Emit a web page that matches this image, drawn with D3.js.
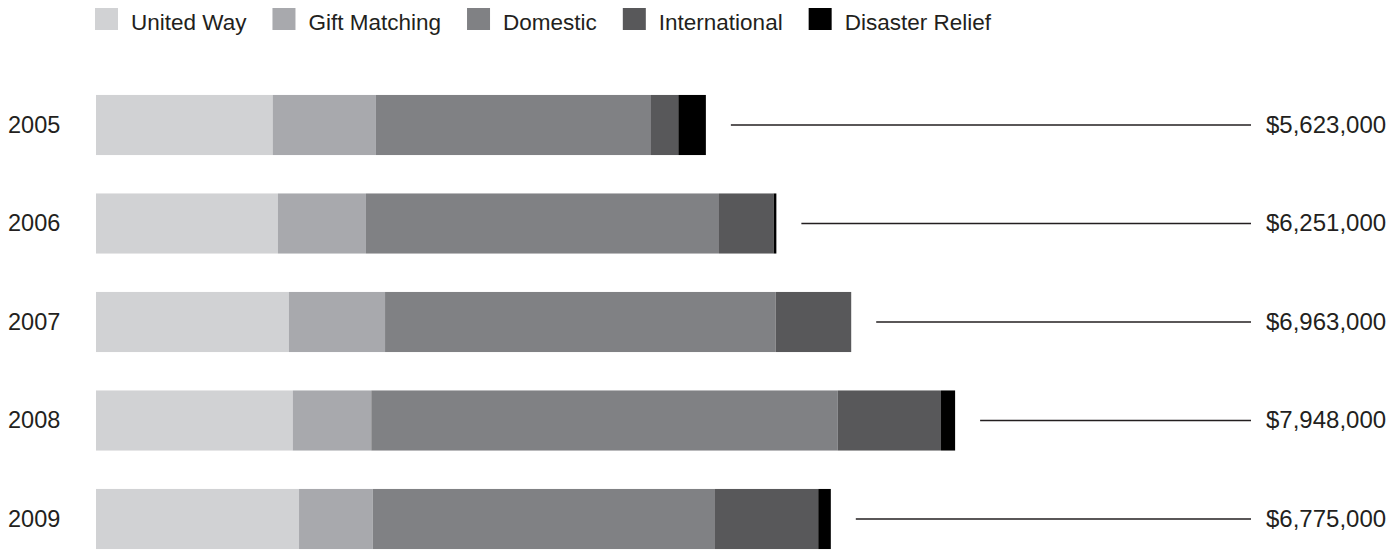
<!DOCTYPE html>
<html>
<head>
<meta charset="utf-8">
<script src="https://cdn.jsdelivr.net/npm/d3@7"></script>
<style>
  body { margin: 0; background: #fff; }
  text { font-family: "Liberation Sans", Arial, sans-serif; fill: #231f20; }
</style>
</head>
<body>
<div id="chart"></div>
<script>
// Giving by year, in thousands of dollars
const years = ["2005", "2006", "2007", "2008", "2009"];
const categories = ["United Way", "Gift Matching", "Domestic", "International", "Disaster Relief"];
const unitedWay     = [1629, 1677, 1778, 1814, 1872];
const giftMatching  = [952, 812, 887, 724, 680];
const domestic      = [2536, 3255, 3602, 4301, 3155];
const international = [252, 504, 696, 952, 952];
const disasterRelief = [254, 25, 0, 130, 116];
const totalLabels = ["$5,623,000", "$6,251,000", "$6,963,000", "$7,948,000", "$6,775,000"];

const colors = ["#d1d2d4", "#a8a9ad", "#808184", "#58585a", "#000000"];

const width = 1397, height = 550;

const rows = years.map((y, i) => ({
    year: y,
    "United Way": unitedWay[i],
    "Gift Matching": giftMatching[i],
    "Domestic": domestic[i],
    "International": international[i],
    "Disaster Relief": disasterRelief[i],
    label: totalLabels[i]
}));

const svg = d3.select("#chart").append("svg")
    .attr("width", width)
    .attr("height", height);

//Scales
const x = d3.scaleLinear().domain([0, 8000]).range([96, 96 + 8000 / 9.22]);
const y = d3.scaleBand().domain(years).range([75.75, 568.25])
    .paddingInner(0.39).paddingOuter(0.195);
const color = d3.scaleOrdinal().domain(categories).range(colors);

const series = d3.stack().keys(categories)(rows);

//Stacked bars
svg.append("g").selectAll("g")
    .data(series)
    .join("g")
    .attr("fill", d => color(d.key))
    .selectAll("rect")
    .data(d => d)
    .join("rect")
    .attr("x", d => x(d[0]))
    .attr("y", d => y(d.data.year))
    .attr("width", d => Math.max(0, x(d[1]) - x(d[0])))
    .attr("height", y.bandwidth());

//Year labels
svg.append("g").selectAll("text")
    .data(rows)
    .join("text")
    .attr("x", 8)
    .attr("y", d => y(d.year) + y.bandwidth() / 2)
    .attr("dy", "0.33em")
    .style("font-size", "23.5px")
    .text(d => d.year);

//Leader lines out to the totals
const totalOf = d => d3.sum(categories, k => d[k]);
svg.append("g").selectAll("line")
    .data(rows)
    .join("line")
    .attr("x1", d => x(totalOf(d)) + 25)
    .attr("x2", 1251)
    .attr("y1", d => y(d.year) + y.bandwidth() / 2)
    .attr("y2", d => y(d.year) + y.bandwidth() / 2)
    .style("stroke", "#231f20")
    .style("stroke-width", 1.3);

//Total labels
svg.append("g").selectAll("text")
    .data(rows)
    .join("text")
    .attr("x", 1266)
    .attr("y", d => y(d.year) + y.bandwidth() / 2)
    .attr("dy", "0.33em")
    .style("font-size", "24px")
    .text(d => d.label);

//Legend
const legend = svg.append("g");
let lx = 95;
categories.forEach(c => {
    legend.append("rect")
        .attr("x", lx).attr("y", 8)
        .attr("width", 23).attr("height", 22)
        .attr("fill", color(c));
    const t = legend.append("text")
        .attr("x", lx + 36).attr("y", 30)
        .style("font-size", "22.5px")
        .text(c);
    lx += 36 + t.node().getComputedTextLength() + 26;
});
</script>
</body>
</html>
